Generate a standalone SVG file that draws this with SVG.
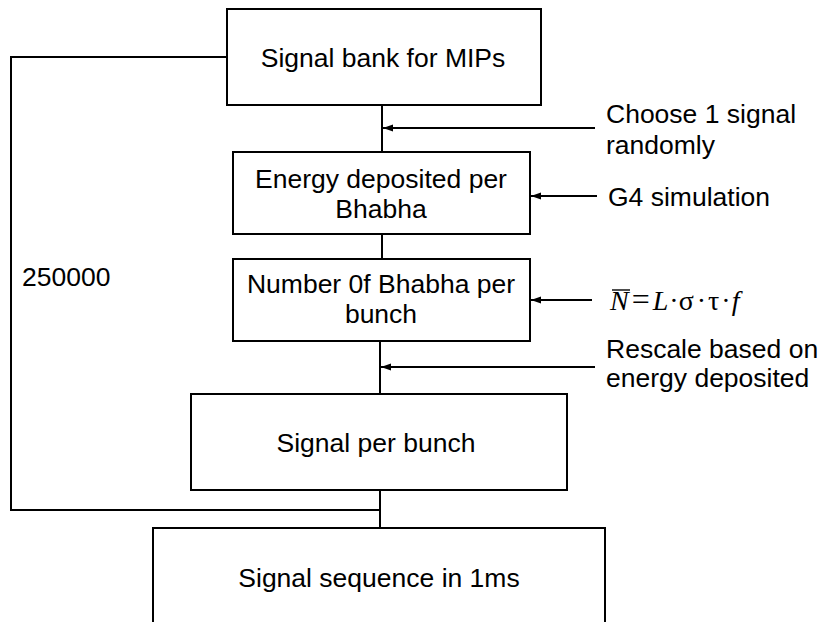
<svg xmlns="http://www.w3.org/2000/svg" width="820" height="622" viewBox="0 0 820 622">
<defs>
<marker id="ah" viewBox="0 0 10 10" refX="10" refY="5" markerWidth="10" markerHeight="10" markerUnits="userSpaceOnUse" orient="auto"><path d="M0,1.5 L10,5 L0,8.5 Z" fill="#000"/></marker>
<style>
.box{fill:#fff;stroke:#000;stroke-width:2}
.ln{fill:none;stroke:#000;stroke-width:2}
.t{font-family:"Liberation Sans",Arial,sans-serif;font-size:26.5px;fill:#000}
.c{text-anchor:middle}
.m{font-family:"Liberation Serif","Times New Roman",serif;font-size:28px;fill:#000}
</style>
</defs>
<rect width="820" height="622" fill="#fff"/>
<g id="connectors">
<path class="ln" d="M227,57 H11 V510 H380"/>
<path class="ln" d="M382,105 V152"/>
<path class="ln" d="M382,234 V259"/>
<path class="ln" d="M380,341 V394"/>
<path class="ln" d="M380,490 V528"/>
<path class="ln" d="M595,128 H383" marker-end="url(#ah)"/>
<path class="ln" d="M597,196 H531" marker-end="url(#ah)"/>
<path class="ln" d="M592,300 H531" marker-end="url(#ah)"/>
<path class="ln" d="M595,367 H381" marker-end="url(#ah)"/>
</g>
<g id="n1"><rect class="box" x="227" y="9" width="314" height="96"/><text class="t c" x="383" y="67">Signal bank for MIPs</text></g>
<g id="n2"><rect class="box" x="233" y="152" width="297" height="82"/><text class="t c" x="381" y="188">Energy deposited per</text><text class="t c" x="381" y="218">Bhabha</text></g>
<g id="n3"><rect class="box" x="233" y="259" width="297" height="82"/><text class="t c" x="381" y="293">Number 0f Bhabha per</text><text class="t c" x="381" y="323">bunch</text></g>
<g id="n4"><rect class="box" x="191" y="394" width="376" height="96"/><text class="t c" x="376" y="452">Signal per bunch</text></g>
<g id="n5"><rect class="box" x="153" y="528" width="452" height="100"/><text class="t c" x="379" y="587">Signal sequence in 1ms</text></g>
<g id="l1"><text class="t" x="606" y="123">Choose 1 signal</text><text class="t" x="606" y="154">randomly</text></g>
<g id="l2"><text class="t" x="608" y="206">G4 simulation</text></g>
<g id="l3"><text class="m" x="610" y="310"><tspan font-style="italic">N</tspan><tspan dx="3" font-size="32">=</tspan><tspan dx="3" font-style="italic">L</tspan><tspan dx="1">·σ</tspan><tspan dx="3">·</tspan><tspan dx="2">τ</tspan><tspan dx="2">·</tspan><tspan dx="1" font-style="italic">f</tspan></text><line x1="612" y1="290" x2="630" y2="290" stroke="#000" stroke-width="1.4"/></g>
<g id="l4"><text class="t" x="606" y="358">Rescale based on</text><text class="t" x="606" y="387">energy deposited</text></g>
<g id="l5"><text class="t" x="22" y="286">250000</text></g>
</svg>
